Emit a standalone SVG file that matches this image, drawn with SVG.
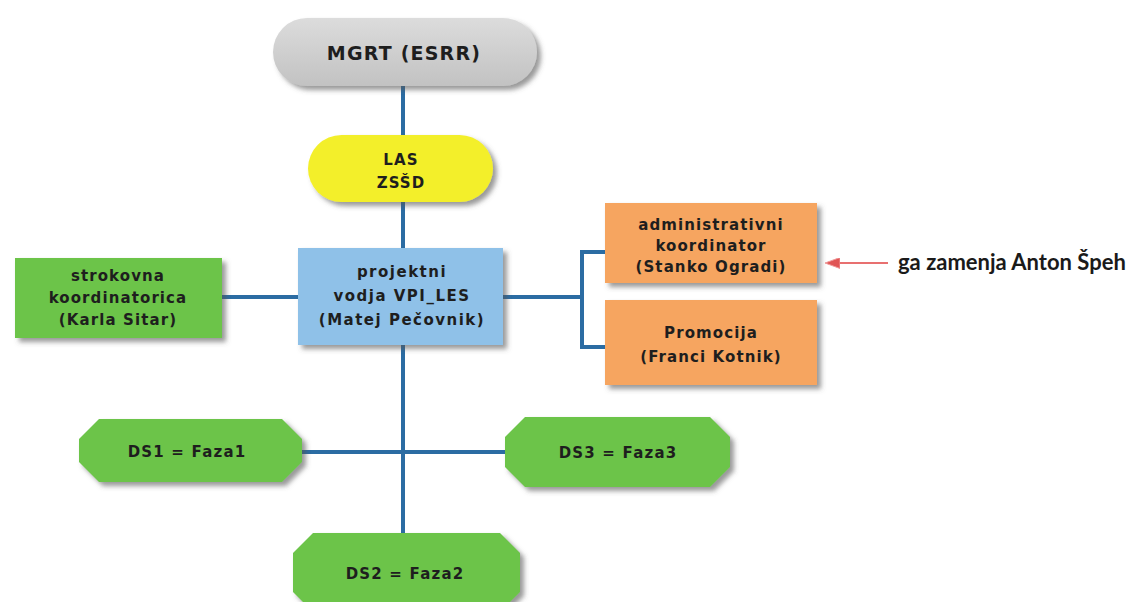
<svg xmlns="http://www.w3.org/2000/svg" width="1131" height="602" viewBox="0 0 1131 602">
<defs>
<filter id="sh" x="-10%" y="-20%" width="130%" height="150%">
<feDropShadow dx="4" dy="4" stdDeviation="2.5" flood-color="#555" flood-opacity="0.6"/>
</filter>
<linearGradient id="gray" x1="0" y1="0" x2="0" y2="1">
<stop offset="0" stop-color="#dcdcdc"/>
<stop offset="1" stop-color="#c2c2c2"/>
</linearGradient>
<marker id="ah" viewBox="0 0 15 11" refX="2" refY="5.5" markerWidth="15" markerHeight="11" markerUnits="userSpaceOnUse" orient="auto">
<path d="M0,0 L15,5.5 L0,11 Z" fill="#e05555" stroke="#f09a9a" stroke-width="1"/>
</marker>
</defs>
<style>
.t{font-family:"DejaVu Sans",Verdana,sans-serif;font-weight:bold;fill:#1e1e1e;text-anchor:middle;}
.s15{font-size:15px;letter-spacing:1.1px;}
.s14{font-size:15px;letter-spacing:1.2px;}
.con{stroke:#2b6ca3;stroke-width:4;fill:none;}
</style>
<g id="connectors">
<line class="con" x1="403" y1="86" x2="403" y2="535"/>
<line class="con" x1="220" y1="297" x2="300" y2="297"/>
<line class="con" x1="503" y1="297" x2="582" y2="297"/>
<polyline class="con" points="606,252 582,252 582,347 606,347"/>
<line class="con" x1="298" y1="452" x2="508" y2="452"/>
<line x1="888" y1="263" x2="838" y2="263" stroke="#e87070" stroke-width="2" marker-end="url(#ah)"/>
</g>
<g id="mgrt">
<rect x="273" y="18" width="264" height="68" rx="34" fill="url(#gray)" filter="url(#sh)"/>
<text class="t" x="404" y="60" style="font-size:19px;letter-spacing:1.2px">MGRT (ESRR)</text>
</g>
<g id="las">
<rect x="308" y="135" width="185" height="67" rx="33.5" fill="#f3ef2c" filter="url(#sh)"/>
<text class="t s15" x="401" y="165">LAS</text>
<text class="t s15" x="401" y="188">ZSŠD</text>
</g>
<g id="strokovna">
<rect x="15" y="258" width="207" height="80" fill="#6cc44a" filter="url(#sh)"/>
<text class="t s15" x="118" y="281">strokovna</text>
<text class="t s15" x="118" y="303">koordinatorica</text>
<text class="t s15" x="118" y="325">(Karla Sitar)</text>
</g>
<g id="projektni">
<rect x="298" y="248" width="205" height="97" fill="#8fc1e8" filter="url(#sh)"/>
<text class="t s15" x="402" y="277" style="letter-spacing:1.5px">projektni</text>
<text class="t s15" x="402" y="301" style="letter-spacing:1.5px">vodja VPI_LES</text>
<text class="t s15" x="402" y="325" style="letter-spacing:1.5px">(Matej Pečovnik)</text>
</g>
<g id="admin">
<rect x="605" y="203" width="212" height="80" fill="#f6a561" filter="url(#sh)"/>
<text class="t s15" x="711" y="230">administrativni</text>
<text class="t s15" x="711" y="251">koordinator</text>
<text class="t s15" x="711" y="272">(Stanko Ogradi)</text>
</g>
<g id="promocija">
<rect x="605" y="300" width="212" height="85" fill="#f6a561" filter="url(#sh)"/>
<text class="t s15" x="711" y="338">Promocija</text>
<text class="t s15" x="711" y="362">(Franci Kotnik)</text>
</g>
<g id="note">
<text x="898" y="270" style="font-family:Lato,'Open Sans',sans-serif;font-weight:bold;font-size:22px;fill:#1a1a1a">ga zamenja Anton Špeh</text>
</g>
<g id="ds1">
<polygon points="99,419 282,419 302,439 302,462 282,482 99,482 79,462 79,439" fill="#6cc44a" filter="url(#sh)"/>
<text class="t s14" x="187" y="457">DS1 = Faza1</text>
</g>
<g id="ds3">
<polygon points="525,417 710,417 730,437 730,467 710,487 525,487 505,467 505,437" fill="#6cc44a" filter="url(#sh)"/>
<text class="t s14" x="618" y="458">DS3 = Faza3</text>
</g>
<g id="ds2">
<polygon points="313,533 500,533 520,553 520,592 500,612 313,612 293,592 293,553" fill="#6cc44a" filter="url(#sh)"/>
<text class="t s14" x="405" y="579">DS2 = Faza2</text>
</g>
</svg>
